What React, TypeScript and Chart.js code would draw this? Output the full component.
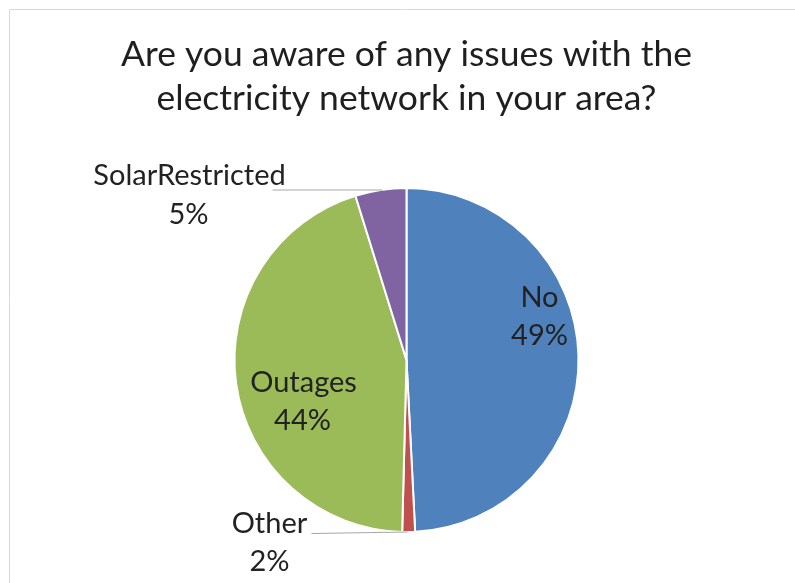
import React, { useEffect, useRef } from "react";
import { Chart, registerables } from "chart.js";

Chart.register(...registerables);

const titleLines = ["Are you aware of any issues with the", "electricity network in your area?"];
const categories = ["No", "Other", "Outages", "SolarRestricted"];
const values = [49.2, 1.2, 44.8, 4.8];
const percentLabels = ["49%", "2%", "44%", "5%"];
const colors = ["#4F81BD", "#C0504D", "#9BBB59", "#8064A2"];

const FONT = "Lato, 'Open Sans', sans-serif";

// label layout: per line offsets from pie center (px, baseline)
const labelLayout = [
  { lines: [[133, -53], [133, -15]], leader: null },
  { lines: [[-137, 173], [-137, 211]], leader: [[-95, 173.5], [1, 172]] },
  { lines: [[-103, 32], [-104, 70]], leader: null },
  { lines: [[-217, -175], [-218, -136]], leader: [[-134, -170], [-24, -170]] },
];

const overlayPlugin = {
  id: "overlay",
  beforeDraw(chart: any) {
    const ctx = chart.ctx;
    ctx.save();
    ctx.fillStyle = "#ffffff";
    ctx.fillRect(0, 0, chart.width, chart.height);
    ctx.strokeStyle = "#d9d9d9";
    ctx.lineWidth = 1;
    ctx.beginPath();
    ctx.moveTo(9.5, chart.height);
    ctx.lineTo(9.5, 9.5);
    ctx.lineTo(chart.width, 9.5);
    ctx.stroke();
    ctx.restore();
  },
  afterDraw(chart: any) {
    const ctx = chart.ctx;
    const meta = chart.getDatasetMeta(0);
    const arc0 = meta.data[0] as any;
    const cx = arc0.x;
    const cy = arc0.y;
    ctx.save();
    // title
    ctx.fillStyle = "#1f1f1f";
    ctx.textAlign = "center";
    ctx.textBaseline = "alphabetic";
    ctx.font = `35.5px ${FONT}`;
    const tx = (chart.chartArea.left + chart.chartArea.right) / 2;
    ctx.fillText(titleLines[0], tx, 66);
    ctx.fillText(titleLines[1], tx, 110);
    // labels
    ctx.font = `29px ${FONT}`;
    categories.forEach((cat, i) => {
      const lay = labelLayout[i];
      const texts = [cat, percentLabels[i]];
      if (lay.leader) {
        ctx.strokeStyle = "#a6a6a6";
        ctx.lineWidth = 1;
        ctx.beginPath();
        ctx.moveTo(cx + lay.leader[0][0], cy + lay.leader[0][1]);
        ctx.lineTo(cx + lay.leader[1][0], cy + lay.leader[1][1]);
        ctx.stroke();
      }
      ctx.fillStyle = "#222222";
      texts.forEach((t, j) => {
        ctx.fillText(t, cx + lay.lines[j][0], cy + lay.lines[j][1]);
      });
    });
    ctx.restore();
  },
};

export default function App() {
  const ref = useRef<HTMLCanvasElement>(null);
  useEffect(() => {
    if (!ref.current) return;
    const chart = new Chart(ref.current, {
      type: "pie",
      data: {
        labels: categories,
        datasets: [
          {
            data: values,
            backgroundColor: colors,
            borderColor: "#ffffff",
            borderWidth: 2,
          },
        ],
      },
      options: {
        responsive: false,
        animation: false,
        devicePixelRatio: 1,
        layout: { padding: { left: 18, right: 0, top: 187, bottom: 50 } },
        plugins: {
          legend: { display: false },
          tooltip: { enabled: false },
          title: { display: false },
        },
      },
      plugins: [overlayPlugin],
    });
    return () => chart.destroy();
  }, []);
  return (
    <div style={{ position: "fixed", left: 0, top: 0, width: 795, height: 583, background: "#fff" }}>
      <canvas ref={ref} width={795} height={583} style={{ width: 795, height: 583 }} />
    </div>
  );
}
